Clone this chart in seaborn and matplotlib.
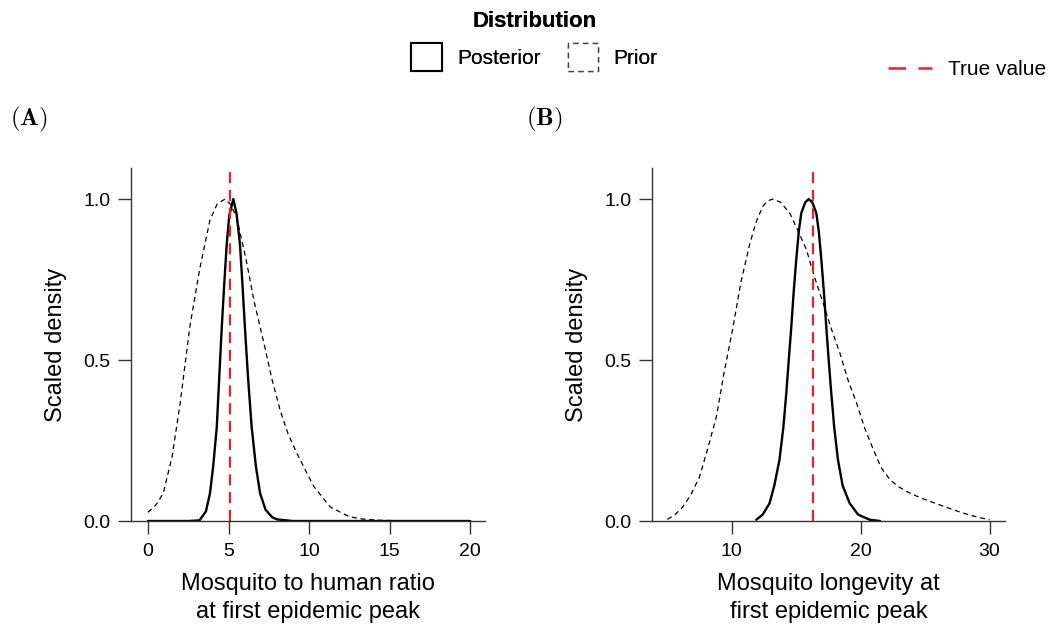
import numpy as np
import pandas as pd
import matplotlib
matplotlib.use("Agg")
import matplotlib.pyplot as plt
import seaborn as sns
from matplotlib.patches import Patch
from matplotlib.lines import Line2D

# values
# panel A: mosquito to human ratio
a_prior_x = [0.0, 0.5, 0.95, 1.5, 2.0, 2.6, 3.2, 3.85, 4.3, 4.78, 5.1, 5.5, 6.1, 6.6, 7.2, 7.7, 8.2, 8.7, 9.25, 9.8, 10.3, 11.3, 12.5, 13.5, 14.5, 15.5, 17.0, 20.0]
a_prior_y = [0.027, 0.05, 0.086, 0.2, 0.366, 0.603, 0.78, 0.935, 0.985, 1.0, 0.985, 0.945, 0.81, 0.68, 0.552, 0.44, 0.345, 0.27, 0.21, 0.155, 0.107, 0.044, 0.013, 0.005, 0.002, 0.001, 0.0, 0.0]
a_post_x = [0.0, 2.5, 3.2, 3.6, 3.85, 4.05, 4.27, 4.42, 4.58, 4.74, 4.89, 5.05, 5.3, 5.5, 5.71, 5.86, 6.02, 6.22, 6.44, 6.7, 6.96, 7.3, 7.7, 8.0, 9.0, 20.0]
a_post_y = [0.0, 0.0, 0.002, 0.03, 0.086, 0.17, 0.29, 0.44, 0.60, 0.74, 0.86, 0.95, 1.0, 0.955, 0.86, 0.74, 0.60, 0.44, 0.29, 0.17, 0.086, 0.035, 0.012, 0.005, 0.0, 0.0]
a_true = 5.1

# panel B: mosquito longevity
b_prior_x = [5.0, 5.6, 6.2, 6.8, 7.5, 8.1, 8.8, 9.4, 10.1, 10.7, 11.4, 11.9, 12.4, 12.8, 13.2, 13.8, 14.5, 15.1, 15.8, 16.4, 17.1, 17.7, 18.4, 19.0, 19.7, 20.3, 21.0, 21.6, 22.3, 23.0, 23.6, 24.3, 25.1, 26.0, 26.9, 27.7, 28.5, 29.3, 30.0]
b_prior_y = [0.005, 0.02, 0.044, 0.08, 0.137, 0.22, 0.323, 0.46, 0.603, 0.74, 0.862, 0.93, 0.977, 0.995, 1.0, 0.99, 0.956, 0.905, 0.842, 0.76, 0.676, 0.6, 0.52, 0.44, 0.365, 0.29, 0.22, 0.165, 0.127, 0.105, 0.091, 0.078, 0.065, 0.052, 0.039, 0.028, 0.018, 0.01, 0.004]
b_post_x = [11.9, 12.4, 12.93, 13.3, 13.7, 14.0, 14.23, 14.42, 14.62, 14.8, 15.0, 15.2, 15.39, 15.7, 15.96, 16.25, 16.56, 16.75, 16.95, 17.15, 17.33, 17.52, 17.72, 17.95, 18.24, 18.6, 19.15, 19.8, 20.7, 21.5]
b_post_y = [0.004, 0.02, 0.055, 0.11, 0.19, 0.29, 0.397, 0.50, 0.604, 0.71, 0.811, 0.9, 0.956, 0.99, 1.0, 0.99, 0.956, 0.9, 0.811, 0.71, 0.604, 0.50, 0.397, 0.29, 0.19, 0.11, 0.055, 0.02, 0.004, 0.0]
b_true = 16.3

panels = [
    ("A", a_prior_x, a_prior_y, a_post_x, a_post_y, a_true,
     "Mosquito to human ratio\nat first epidemic peak", [0, 5, 10, 15, 20], (-1.05, 20.93)),
    ("B", b_prior_x, b_prior_y, b_post_x, b_post_y, b_true,
     "Mosquito longevity at\nfirst epidemic peak", [10, 20, 30], (3.8, 31.2)),
]

sns.set_theme(style="ticks")
plt.rcParams["font.family"] = ["Liberation Sans", "DejaVu Sans"]
plt.rcParams["mathtext.fontset"] = "cm"
plt.rcParams["text.color"] = "black"
plt.rcParams["axes.labelcolor"] = "black"
plt.rcParams["xtick.color"] = "#333333"
plt.rcParams["ytick.color"] = "#333333"
plt.rcParams["xtick.labelcolor"] = "black"
plt.rcParams["ytick.labelcolor"] = "black"

fig = plt.figure(figsize=(10.48, 6.3), dpi=100)
ax_pos = [[0.125, 0.173, 0.338, 0.560], [0.622, 0.173, 0.337, 0.560]]
lab_x = [0.010, 0.502]

for pos, lx, (lab, px, py, qx, qy, tv, xlabel, xticks, xlim) in zip(ax_pos, lab_x, panels):
    ax = fig.add_axes(pos)
    prior = pd.DataFrame({"x": px, "y": py})
    post = pd.DataFrame({"x": qx, "y": qy})
    sns.lineplot(data=prior, x="x", y="y", ax=ax, color="black", lw=0.9,
                 linestyle=(0, (4, 3)), sort=False)
    sns.lineplot(data=post, x="x", y="y", ax=ax, color="black", lw=1.7, sort=False)
    ax.axvline(tv, color="#e8202a", lw=1.6, linestyle=(0, (5, 3)))
    ax.set_xlim(*xlim)
    ax.set_ylim(0, 1.096)
    ax.set_xticks(xticks)
    ax.set_yticks([0.0, 0.5, 1.0])
    ax.set_yticklabels(["0.0", "0.5", "1.0"])
    ax.set_xlabel(xlabel, fontsize=17, linespacing=1.35, labelpad=10)
    ax.set_ylabel("Scaled density", fontsize=17, labelpad=12)
    ax.tick_params(axis="both", labelsize=14, length=9.5, width=1)
    ax.tick_params(axis="x", pad=6)
    ax.tick_params(axis="y", pad=5)
    for s in ["top", "right"]:
        ax.spines[s].set_visible(False)
    for s in ["left", "bottom"]:
        ax.spines[s].set_color("#333333")
        ax.spines[s].set_linewidth(1)
    fig.text(lx, 0.81, r"$\mathbf{(%s)}$" % lab, fontsize=18, ha="left", va="center")

dist_handles = [
    Patch(facecolor="white", edgecolor="black", linewidth=1.5, label="Posterior"),
    Patch(facecolor="white", edgecolor="#444444", linewidth=1.0, linestyle=(0, (4, 3)), label="Prior"),
]
leg1 = fig.legend(handles=dist_handles, loc="upper center", bbox_to_anchor=(0.51, 1.005),
                  ncol=2, frameon=False, fontsize=15, title="Distribution",
                  title_fontproperties={"weight": "bold", "size": 16},
                  handlelength=1.45, handleheight=1.7, columnspacing=1.3, handletextpad=0.75,
                  borderaxespad=0.3)
fig.add_artist(leg1)
true_handle = [Line2D([0], [0], color="#e8202a", lw=1.8, linestyle=(0, (7, 5)), label="True value")]
fig.legend(handles=true_handle, loc="center right", bbox_to_anchor=(0.998, 0.889),
           frameon=False, fontsize=15, handlelength=2.1, handletextpad=0.75,
           borderaxespad=0.0, borderpad=0.0)

fig.savefig("out.png", dpi=100)
